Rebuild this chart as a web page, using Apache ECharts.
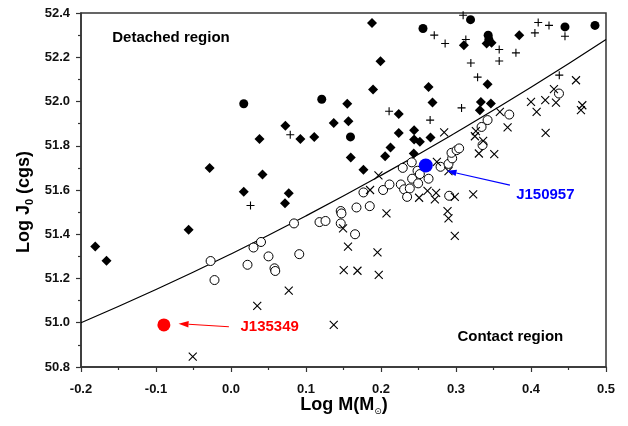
<!DOCTYPE html>
<html><head><meta charset="utf-8">
<script src="https://cdn.jsdelivr.net/npm/echarts@6/dist/echarts.min.js"></script>
<style>html,body{margin:0;padding:0;background:#fff}#c{width:628px;height:426px}</style>
</head><body><div id="c"></div>
<script>
// ---- data ----
const diamonds = [[-0.181,51.345],[-0.166,51.28],[-0.0565,51.42],[-0.0285,51.70],[0.017,51.592],[0.038,51.83],[0.042,51.67],[0.0725,51.89],[0.077,51.585],[0.072,51.54],[0.0925,51.83],[0.111,51.84],[0.137,51.903],[0.155,51.99],[0.1566,51.911],[0.1597,51.747],[0.1766,51.691],[0.188,52.355],[0.1894,52.054],[0.1993,52.182],[0.2055,51.753],[0.2127,51.792],[0.2237,51.943],[0.2237,51.858],[0.2437,51.765],[0.2442,51.87],[0.2442,51.828],[0.2518,51.818],[0.266,51.837],[0.2634,52.065],[0.2687,51.996],[0.3105,52.254],[0.3408,52.262],[0.3474,52.266],[0.3843,52.30],[0.3421,52.078],[0.3332,51.998],[0.3465,51.991],[0.3318,51.961]];
const filledCircles = [[0.017,51.99],[0.121,52.01],[0.1593,51.84],[0.256,52.33],[0.3194,52.37],[0.3429,52.30],[0.3438,52.28],[0.4453,52.337],[0.4853,52.344]];
const plusPts = [[0.026,51.53],[0.079,51.85],[0.2108,51.956],[0.2655,51.916],[0.271,52.30],[0.2855,52.262],[0.3095,52.39],[0.3131,52.28],[0.3198,52.174],[0.3288,52.11],[0.3074,51.971],[0.3576,52.235],[0.3576,52.183],[0.3799,52.22],[0.4052,52.31],[0.4096,52.357],[0.424,52.344],[0.4453,52.295],[0.4377,52.119]];
const openCircles = [[-0.0272,51.279],[-0.022,51.193],[0.022,51.262],[0.030,51.34],[0.040,51.365],[0.050,51.30],[0.058,51.246],[0.059,51.234],[0.084,51.449],[0.091,51.31],[0.118,51.455],[0.126,51.46],[0.1463,51.505],[0.1473,51.494],[0.1463,51.449],[0.1654,51.40],[0.1673,51.521],[0.185,51.527],[0.1766,51.589],[0.2028,51.60],[0.2113,51.625],[0.2264,51.625],[0.2308,51.603],[0.2384,51.607],[0.2348,51.569],[0.229,51.70],[0.241,51.725],[0.2487,51.687],[0.2518,51.672],[0.2415,51.651],[0.2634,51.651],[0.2495,51.63],[0.2794,51.705],[0.29,51.718],[0.2949,51.743],[0.294,51.768],[0.3008,51.78],[0.3042,51.788],[0.2909,51.574],[0.3354,51.803],[0.3341,51.885],[0.3421,51.916],[0.371,51.941],[0.4373,52.036]];
const crossPts = [[-0.051,50.847],[0.035,51.076],[0.077,51.145],[0.137,50.99],[0.1494,51.427],[0.156,51.344],[0.1503,51.238],[0.1686,51.235],[0.197,51.216],[0.1953,51.318],[0.1854,51.60],[0.1966,51.666],[0.2073,51.494],[0.2508,51.565],[0.262,51.596],[0.2735,51.587],[0.2718,51.558],[0.2745,51.727],[0.29,51.685],[0.2842,51.86],[0.2984,51.569],[0.2887,51.505],[0.29,51.472],[0.2984,51.393],[0.3229,51.58],[0.3265,51.866],[0.3252,51.843],[0.3362,51.822],[0.3305,51.765],[0.351,51.762],[0.3585,51.953],[0.3688,51.883],[0.4195,51.858],[0.40,51.998],[0.4075,51.953],[0.419,52.006],[0.4333,51.995],[0.4306,52.056],[0.46,52.096],[0.4684,51.983],[0.4666,51.961]];
const curveX = [-0.2,-0.1,0.0,0.1,0.2,0.3,0.4,0.5];
const curveY = [51.0,51.15,51.311,51.483,51.666,51.86,52.064,52.28];
const redStar = [[-0.0895,50.99]];
const blueStar = [[0.2597,51.711]];
const starNames = ['J135349','J150957'];
const regionNames = ['Detached region','Contact region'];

// ---- chart ----
const FONT = '"Liberation Sans", Arial, sans-serif';
const AX = '#333';
const chart = echarts.init(document.getElementById('c'));
function axisBase(){
  return {
    type:'value',
    axisLine:{show:true,onZero:false,lineStyle:{color:AX,width:1.5}},
    axisTick:{show:true,length:5,lineStyle:{color:AX,width:1.2}},
    minorTick:{show:true,splitNumber:2,length:3,lineStyle:{color:AX,width:1.2}},
    splitLine:{show:false},
    minorSplitLine:{show:false},
    axisLabel:{fontFamily:FONT,fontWeight:'bold',fontSize:13,color:'#111',formatter:v=>v.toFixed(1)}
  };
}
const xA = axisBase(); Object.assign(xA,{min:-0.2,max:0.5,interval:0.1}); xA.axisLabel.margin=16;
const yA = axisBase(); Object.assign(yA,{min:50.8,max:52.4,interval:0.2}); yA.axisLabel.margin=11;

const plusPath = 'path://M0,5L10,5M5,0L5,10';
const crossPath = 'path://M0,0L10,10M10,0L0,10';

chart.setOption({
  animation:false,
  grid:{left:81,right:22,top:13,bottom:59,show:true,borderColor:AX,borderWidth:1.5},
  xAxis:xA, yAxis:yA,
  series:[
    {type:'line',data:curveX.map((x,i)=>[x,curveY[i]]),smooth:true,showSymbol:false,symbol:'none',lineStyle:{color:'#000',width:1.2},z:1},
    {type:'scatter',data:openCircles,symbol:'circle',symbolSize:9,itemStyle:{color:'#fff',borderColor:'#000',borderWidth:1,opacity:1},z:2},
    {type:'scatter',data:crossPts,symbol:crossPath,symbolSize:8,itemStyle:{color:'none',borderColor:'#000',borderWidth:1.1,opacity:1},z:3},
    {type:'scatter',data:plusPts,symbol:plusPath,symbolSize:8,itemStyle:{color:'none',borderColor:'#000',borderWidth:1.1,opacity:1},z:3},
    {type:'scatter',data:diamonds,symbol:'diamond',symbolSize:10,itemStyle:{color:'#000',opacity:1},z:4},
    {type:'scatter',data:filledCircles,symbol:'circle',symbolSize:9,itemStyle:{color:'#000',opacity:1},z:4},
    {type:'scatter',data:redStar,symbol:'circle',symbolSize:13,itemStyle:{color:'#ff0000',opacity:1},z:5},
    {type:'scatter',data:blueStar,symbol:'circle',symbolSize:14,itemStyle:{color:'#0000ff',opacity:1},z:5}
  ]
});

function P(x,y){return chart.convertToPixel({gridIndex:0},[x,y]);}
function arrow(from,to,color){
  const a=P(from[0],from[1]), b=P(to[0],to[1]);
  const dx=b[0]-a[0], dy=b[1]-a[1], L=Math.hypot(dx,dy), ux=dx/L, uy=dy/L;
  const hl=10, hw=3.2;
  const base=[b[0]-ux*hl,b[1]-uy*hl];
  return [
    {type:'line',shape:{x1:a[0],y1:a[1],x2:base[0],y2:base[1]},style:{stroke:color,lineWidth:1.2},z:10},
    {type:'polygon',shape:{points:[b,[base[0]-uy*hw,base[1]+ux*hw],[base[0]+uy*hw,base[1]-ux*hw]]},style:{fill:color},z:10}
  ];
}
function label(x,y,text,color,size){
  const p=P(x,y);
  return {type:'text',x:p[0],y:p[1],z:10,style:{text:text,fill:color,font:'bold '+size+'px '+FONT,align:'center',verticalAlign:'middle'}};
}
const g=[];
g.push(...arrow([-0.0028,50.982],[-0.0699,50.996],'#ff0000'));
g.push(...arrow([0.3719,51.622],[0.2874,51.687],'#0000ff'));
g.push(label(0.0516,50.982,starNames[0],'#ff0000',15));
g.push(label(0.4191,51.58,starNames[1],'#0000ff',15));
g.push(label(-0.08,52.287,regionNames[0],'#000',15));
g.push(label(0.3724,50.937,regionNames[1],'#000',15));
// axis titles
g.push({type:'text',x:344,y:405,z:10,style:{text:'{a|Log M(M}{s|⊙}{a|)}',align:'center',verticalAlign:'middle',fill:'#000',
  rich:{a:{fontFamily:FONT,fontWeight:'bold',fontSize:18,fill:'#000'},s:{fontFamily:'DejaVu Sans',fontSize:9,fill:'#000',padding:[14,0,0,0]}}}});
g.push({type:'text',x:24,y:202,rotation:Math.PI/2,z:10,style:{text:'{a|Log J}{s|0}{a| (cgs)}',align:'center',verticalAlign:'middle',fill:'#000',
  rich:{a:{fontFamily:FONT,fontWeight:'bold',fontSize:18,fill:'#000'},s:{fontFamily:FONT,fontWeight:'bold',fontSize:11,fill:'#000',padding:[12,0,0,0]}}}});
chart.setOption({graphic:g});
</script></body></html>
